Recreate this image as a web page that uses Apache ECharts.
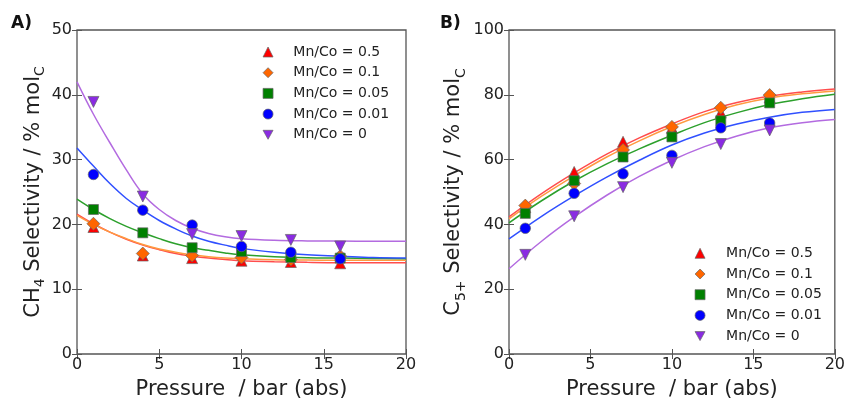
<!DOCTYPE html>
<html>
<head>
<meta charset="utf-8">
<script src="https://cdn.jsdelivr.net/npm/echarts@6/dist/echarts.min.js"></script>
<style>
html,body{margin:0;padding:0;background:#fff;}
#chart{width:848px;height:405px;}
</style>
</head>
<body>
<div id="chart"></div>
<script>
// ---- data ----
const seriesNames = ['Mn/Co = 0.5', 'Mn/Co = 0.1', 'Mn/Co = 0.05', 'Mn/Co = 0.01', 'Mn/Co = 0'];
const pressure = [1, 4, 7, 10, 13, 16];

// Panel A: CH4 selectivity (measured)
const ch4_05  = [19.6, 15.2, 14.8, 14.4, 14.2, 14.0];
const ch4_01  = [20.1, 15.5, 15.2, 14.9, 14.6, 15.1];
const ch4_005 = [22.3, 18.7, 16.4, 15.8, 14.9, 14.8];
const ch4_001 = [27.7, 22.2, 19.9, 16.6, 15.7, 14.7];
const ch4_0   = [38.9, 24.3, 18.5, 18.2, 17.6, 16.6];

// Panel A: fitted curves
const fitXA = [0, 1, 2, 3, 4, 5, 6, 7, 8, 9, 10, 12, 14, 16, 18, 20];
const ch4Fit_05  = [21.6, 20.1, 18.8, 17.7, 16.8, 16.1, 15.5, 15.1, 14.8, 14.6, 14.4, 14.25, 14.15, 14.1, 14.1, 14.1];
const ch4Fit_01  = [21.4, 20.0, 18.8, 17.8, 16.9, 16.2, 15.7, 15.3, 15.0, 14.8, 14.7, 14.55, 14.5, 14.45, 14.45, 14.45];
const ch4Fit_005 = [23.9, 22.3, 20.9, 19.7, 18.7, 17.8, 17.0, 16.4, 16.0, 15.6, 15.3, 15.0, 14.85, 14.8, 14.75, 14.7];
const ch4Fit_001 = [31.8, 29.0, 26.3, 24.0, 22.2, 20.6, 19.3, 18.2, 17.4, 16.8, 16.3, 15.7, 15.3, 15.1, 14.9, 14.8];
const ch4Fit_0   = [42.0, 37.0, 32.6, 28.4, 24.7, 22.3, 20.6, 19.4, 18.6, 18.1, 17.8, 17.55, 17.45, 17.42, 17.4, 17.4];

// Panel B: C5+ selectivity (measured)
const c5_05  = [45.3, 56.2, 65.5, 69.8, 74.5, 79.2];
const c5_01  = [45.8, 52.6, 63.0, 70.1, 76.0, 79.9];
const c5_005 = [43.4, 53.5, 60.8, 67.0, 72.0, 77.5];
const c5_001 = [38.8, 49.6, 55.6, 61.3, 69.8, 71.3];
const c5_0   = [30.6, 42.5, 51.5, 59.0, 64.8, 69.0];

// Panel B: fitted curves
const fitXB = [0, 2, 4, 6, 8, 10, 12, 14, 16, 18, 20];
const c5Fit_05  = [42.3, 49.5, 55.9, 61.7, 66.7, 71.0, 74.8, 77.6, 79.6, 80.9, 81.8];
const c5Fit_01  = [41.7, 48.7, 55.0, 60.8, 65.8, 70.2, 73.9, 76.9, 79.0, 80.3, 81.2];
const c5Fit_005 = [40.5, 47.3, 53.4, 58.7, 63.3, 67.5, 71.4, 74.5, 77.0, 78.8, 80.2];
const c5Fit_001 = [35.5, 42.5, 48.8, 54.6, 59.8, 64.5, 68.2, 71.0, 73.1, 74.6, 75.5];
const c5Fit_0   = [26.3, 34.8, 42.3, 49.0, 54.8, 59.8, 64.0, 67.3, 69.8, 71.4, 72.4];

// ---- styles ----
const markerColors = ['#ff0000', '#ff6600', '#008000', '#0000ff', '#8a2be2'];
const lineColors = ['#ff4d4d', '#ff9a40', '#2ca02c', '#3050ff', '#b36be0'];
const symbols = ['triangle', 'diamond', 'rect', 'circle', 'path://M0,0L20,0L10,18Z'];
const symSizes = [11, 13, 10, 10.5, 11];
const FONT = 'DejaVu Sans';

const ptsA = [ch4_05, ch4_01, ch4_005, ch4_001, ch4_0];
const fitsA = [ch4Fit_05, ch4Fit_01, ch4Fit_005, ch4Fit_001, ch4Fit_0];
const ptsB = [c5_05, c5_01, c5_005, c5_001, c5_0];
const fitsB = [c5Fit_05, c5Fit_01, c5Fit_005, c5Fit_001, c5Fit_0];

const zip = (xs, ys) => xs.map((x, i) => [x, ys[i]]);
const tickStyle = { show: true, inside: true, length: 5, lineStyle: { color: '#555', width: 1 } };

function mainX(grid) {
  return {
    type: 'value', gridIndex: grid, min: 0, max: 20, interval: 5, position: 'bottom',
    axisLine: { show: false }, axisTick: tickStyle,
    axisLabel: { fontFamily: FONT, fontSize: 16, color: '#222', margin: 3 },
    splitLine: { show: false },
    name: 'Pressure  / bar (abs)', nameLocation: 'middle', nameGap: 25,
    nameTextStyle: { fontFamily: FONT, fontSize: 21, color: '#222' }
  };
}
function topX(grid) {
  return {
    type: 'value', gridIndex: grid, min: 0, max: 20, interval: 5, position: 'top',
    axisLine: { show: false }, axisTick: tickStyle,
    axisLabel: { show: false }, splitLine: { show: false }
  };
}
function mainY(grid, max, interval, name, gap) {
  return {
    type: 'value', gridIndex: grid, min: 0, max: max, interval: interval, position: 'left',
    axisLine: { show: false }, axisTick: tickStyle,
    axisLabel: { fontFamily: FONT, fontSize: 16, color: '#222', margin: 5 },
    splitLine: { show: false },
    name: name, nameLocation: 'middle', nameGap: gap, nameRotate: 90,
    nameTextStyle: {
      fontFamily: FONT, fontSize: 21, color: '#222', lineHeight: 28,
      rich: { sub: { fontFamily: FONT, fontSize: 14, color: '#222', lineHeight: 14, verticalAlign: 'bottom' } }
    }
  };
}
function rightY(grid, max, interval) {
  return {
    type: 'value', gridIndex: grid, min: 0, max: max, interval: interval, position: 'right',
    axisLine: { show: false }, axisTick: tickStyle,
    axisLabel: { show: false }, splitLine: { show: false }
  };
}

const series = [];
function addPanel(grid, xAxisIndex, yAxisIndex, pts, fits, fitX) {
  for (let i = 0; i < 5; i++) {
    series.push({
      type: 'line', name: 'fit' + grid + '_' + i, xAxisIndex, yAxisIndex,
      data: zip(fitX, fits[i]), smooth: 0.4,
      showSymbol: false, symbol: 'none', silent: true, z: 2,
      lineStyle: { color: lineColors[i], width: 1.5 }
    });
  }
  for (let i = 0; i < 5; i++) {
    series.push({
      type: 'scatter', name: seriesNames[i], xAxisIndex, yAxisIndex,
      data: zip(pressure, pts[i]), symbol: symbols[i], symbolSize: symSizes[i], z: 3 + i,
      itemStyle: { color: markerColors[i], borderColor: '#666', borderWidth: 0.7, opacity: 1 }
    });
  }
}
addPanel(0, 0, 0, ptsA, fitsA, fitXA);
addPanel(1, 2, 2, ptsB, fitsB, fitXB);

function legend(left, top, textPad) {
  return {
    orient: 'vertical', left: left, top: top,
    itemWidth: 10, itemHeight: 10, itemGap: 6.7, padding: 0,
    data: seriesNames.map((n) => ({ name: n })),
    textStyle: { fontFamily: FONT, fontSize: 14, color: '#222', lineHeight: 14, padding: [0, 0, 0, textPad] },
    itemStyle: { borderColor: '#666', borderWidth: 0.7 },
    selectedMode: false
  };
}

const option = {
  backgroundColor: '#fff',
  animation: false,
  title: [
    { text: 'A)', left: 11, top: 15, padding: 0, textStyle: { fontFamily: FONT, fontSize: 17, fontWeight: 'bold', color: '#111' } },
    { text: 'B)', left: 440, top: 15, padding: 0, textStyle: { fontFamily: FONT, fontSize: 17, fontWeight: 'bold', color: '#111' } }
  ],
  grid: [
    { left: 77, top: 30, width: 329, height: 330, show: true, borderColor: '#555', borderWidth: 1.3, backgroundColor: 'transparent' },
    { left: 509, top: 30, width: 329, height: 330, show: true, borderColor: '#555', borderWidth: 1.3, backgroundColor: 'transparent' }
  ],
  xAxis: [mainX(0), topX(0), mainX(1), topX(1)],
  yAxis: [
    mainY(0, 50, 10, 'CH{sub|4} Selectivity / % mol{sub|C}', 29), rightY(0, 50, 10),
    mainY(1, 100, 20, 'C{sub|5+} Selectivity / % mol{sub|C}', 41), rightY(1, 100, 20)
  ],
  legend: [legend(262.7, 45, 15.3), legend(694.7, 246.3, 16)],
  series: series
};

const chart = echarts.init(document.getElementById('chart'), null, { renderer: 'canvas' });
chart.setOption(option);
</script>
</body>
</html>
